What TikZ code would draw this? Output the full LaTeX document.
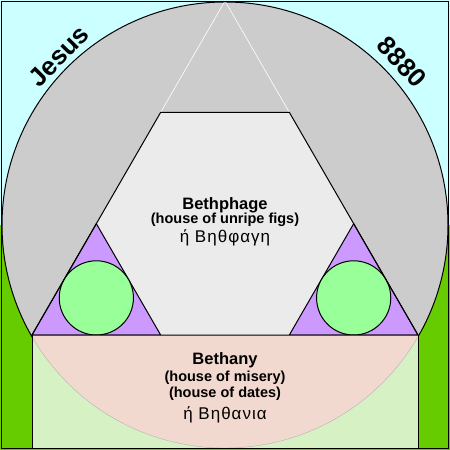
\documentclass[tikz,border=0pt]{standalone}
\usepackage{fontspec}
\setmainfont{Liberation Sans}
\newfontfamily\greekfont[LetterSpace=6]{Liberation Sans}
\definecolor{sky}{HTML}{CCFFFF}
\definecolor{grass}{HTML}{66CC00}
\definecolor{disc}{HTML}{CCCCCC}
\definecolor{hexa}{HTML}{EBEBEB}
\definecolor{lilac}{HTML}{CC99FF}
\definecolor{mint}{HTML}{99FF99}
\definecolor{blush}{HTML}{F2D9CF}
\definecolor{pale}{HTML}{D6F2C4}
\begin{document}
\begin{tikzpicture}[x=1pt,y=-1pt]
\tikzstyle{place} = [font=\bfseries\fontsize{16.5}{20}\selectfont, anchor=base, inner sep=0pt]
\tikzstyle{gloss} = [font=\bfseries\fontsize{14.5}{18}\selectfont, anchor=base, inner sep=0pt]
\tikzstyle{greek} = [font=\greekfont\fontsize{17}{20}\selectfont, anchor=base, inner sep=0pt]
\tikzstyle{rim} = [font=\bfseries\fontsize{26}{28}\selectfont, inner sep=0pt]
\tikzstyle{e} = [draw=black, line width=1pt]

\useasboundingbox (0,0) rectangle (450,450);
\fill[sky] (0,0) rectangle (450,225);
\fill[grass] (0,225) rectangle (450,450);
\filldraw[fill=disc, e] (225,225) circle (223pt);

\coordinate (A) at (225,1);
\coordinate (T1) at (160.67,112.33);
\coordinate (T2) at (289.33,112.33);
\coordinate (M1) at (96.33,223.67);
\coordinate (M2) at (353.67,223.67);
\coordinate (L) at (32,335);
\coordinate (R) at (418,335);
\coordinate (B1) at (160.67,335);
\coordinate (B2) at (289.33,335);
\coordinate (LB) at (32,448);
\coordinate (RB) at (418,448);

\fill[hexa] (T1) -- (T2) -- (M2) -- (B2) -- (B1) -- (M1) -- cycle;
\draw[white, line width=0.6pt] (T1) -- (A) -- (T2);
\filldraw[fill=lilac, e] (L) -- (M1) -- (B1) -- cycle;
\filldraw[fill=lilac, e] (B2) -- (M2) -- (R) -- cycle;
\filldraw[fill=mint, e] (96.33,297.9) circle (37.1pt);
\filldraw[fill=mint, e] (353.67,297.9) circle (37.1pt);

% lower box
\fill[pale] (L) rectangle (RB);
\begin{scope}
\clip (L) rectangle (RB);
\filldraw[fill=blush, draw=black!30] (225,225) circle (223pt);
\end{scope}
\draw[e] (R) -- (RB) -- (LB) -- (L);
\draw[e] (T1) -- (T2) -- (R) -- (L) -- cycle;

\node[rim, rotate=45.5] (jesus) at (59,56) {Jesus};
\node[rim, rotate=-47.5] (num) at (402,62) {8880};

\node[place] (phage) at (225,209) {Bethphage};
\node[gloss] (figs) at (225,223) {(house of unripe figs)};
\node[greek] (phagegr) at (225,242.7) {ή Βηθφαγη};

\node[place] (bethany) at (225,364) {Bethany};
\node[gloss] (misery) at (225,381) {(house of misery)};
\node[gloss] (dates) at (225,397) {(house of dates)};
\node[greek] (bethanygr) at (225,419.3) {ή Βηθανια};

\draw[e] (1,1) rectangle (448.5,448.5);
\end{tikzpicture}
\end{document}
